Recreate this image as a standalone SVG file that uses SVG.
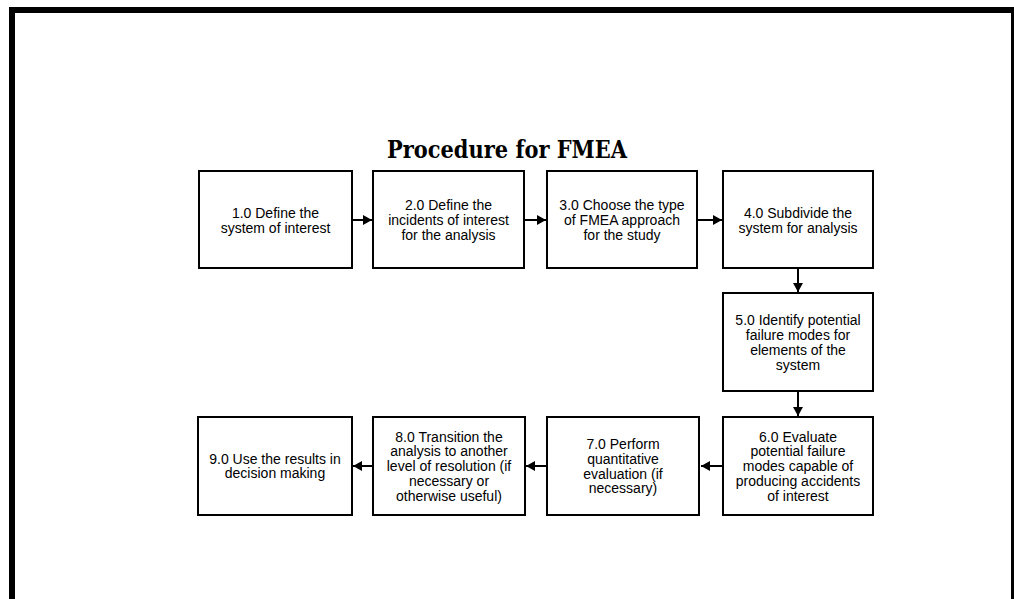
<svg xmlns="http://www.w3.org/2000/svg" width="1014" height="599" viewBox="0 0 1014 599">
<defs>
<style>
.box{fill:#fff;stroke:#000;stroke-width:2}
.t{font-family:"Liberation Sans",Arial,sans-serif;font-size:14px;fill:#000;text-anchor:middle}
.title{font-family:"DejaVu Serif",serif;font-weight:bold;font-size:25px;fill:#000;text-anchor:middle}
.conn{stroke:#000;stroke-width:2;fill:none;marker-end:url(#ah)}
</style>
<marker id="ah" markerWidth="10" markerHeight="10" refX="9" refY="5" orient="auto" markerUnits="userSpaceOnUse">
<path d="M0,0 L9,5 L0,10 Z" fill="#000"/>
</marker>
</defs>
<rect width="1014" height="599" fill="#fff"/>
<rect x="12" y="10" width="1002" height="700" fill="none" stroke="#000" stroke-width="6"/>
<text class="title" x="507" y="158" textLength="240" lengthAdjust="spacingAndGlyphs">Procedure for FMEA</text>

<g id="connectors">
<line class="conn" x1="353" y1="220" x2="372" y2="220"/>
<line class="conn" x1="525" y1="220" x2="546" y2="220"/>
<line class="conn" x1="698" y1="220" x2="722" y2="220"/>
<line class="conn" x1="798" y1="269" x2="798" y2="292"/>
<line class="conn" x1="798" y1="392" x2="798" y2="416"/>
<line class="conn" x1="722" y1="466" x2="701" y2="466"/>
<line class="conn" x1="546" y1="466" x2="526" y2="466"/>
<line class="conn" x1="372" y1="466" x2="353" y2="466"/>
</g>

<g id="n1"><rect class="box" x="199" y="171" width="153" height="97"/>
<text class="t" x="275.5" y="218">1.0 Define the</text><text class="t" x="275.5" y="233">system of interest</text></g>

<g id="n2"><rect class="box" x="373" y="171" width="151" height="97"/>
<text class="t" x="448.5" y="210">2.0 Define the</text><text class="t" x="448.5" y="225">incidents of interest</text><text class="t" x="448.5" y="240">for the analysis</text></g>

<g id="n3"><rect class="box" x="547" y="171" width="150" height="97"/>
<text class="t" x="622" y="210">3.0 Choose the type</text><text class="t" x="622" y="225">of FMEA approach</text><text class="t" x="622" y="240">for the study</text></g>

<g id="n4"><rect class="box" x="723" y="171" width="150" height="97"/>
<text class="t" x="798" y="218">4.0 Subdivide the</text><text class="t" x="798" y="233">system for analysis</text></g>

<g id="n5"><rect class="box" x="723" y="293" width="150" height="98"/>
<text class="t" x="798" y="325">5.0 Identify potential</text><text class="t" x="798" y="340">failure modes for</text><text class="t" x="798" y="355">elements of the</text><text class="t" x="798" y="370">system</text></g>

<g id="n6"><rect class="box" x="723" y="417" width="150" height="98"/>
<text class="t" x="798" y="441.5">6.0 Evaluate</text><text class="t" x="798" y="456.3">potential failure</text><text class="t" x="798" y="471">modes capable of</text><text class="t" x="798" y="485.8">producing accidents</text><text class="t" x="798" y="500.6">of interest</text></g>

<g id="n7"><rect class="box" x="547" y="417" width="152" height="98"/>
<text class="t" x="623" y="449">7.0 Perform</text><text class="t" x="623" y="463.8">quantitative</text><text class="t" x="623" y="478.6">evaluation (if</text><text class="t" x="623" y="493.4">necessary)</text></g>

<g id="n8"><rect class="box" x="373" y="417" width="152" height="98"/>
<text class="t" x="449" y="441.5">8.0 Transition the</text><text class="t" x="449" y="456.3">analysis to another</text><text class="t" x="449" y="471">level of resolution (if</text><text class="t" x="449" y="485.8">necessary or</text><text class="t" x="449" y="500.6">otherwise useful)</text></g>

<g id="n9"><rect class="box" x="198" y="417" width="154" height="98"/>
<text class="t" x="275" y="463.5">9.0 Use the results in</text><text class="t" x="275" y="478.3">decision making</text></g>
</svg>
